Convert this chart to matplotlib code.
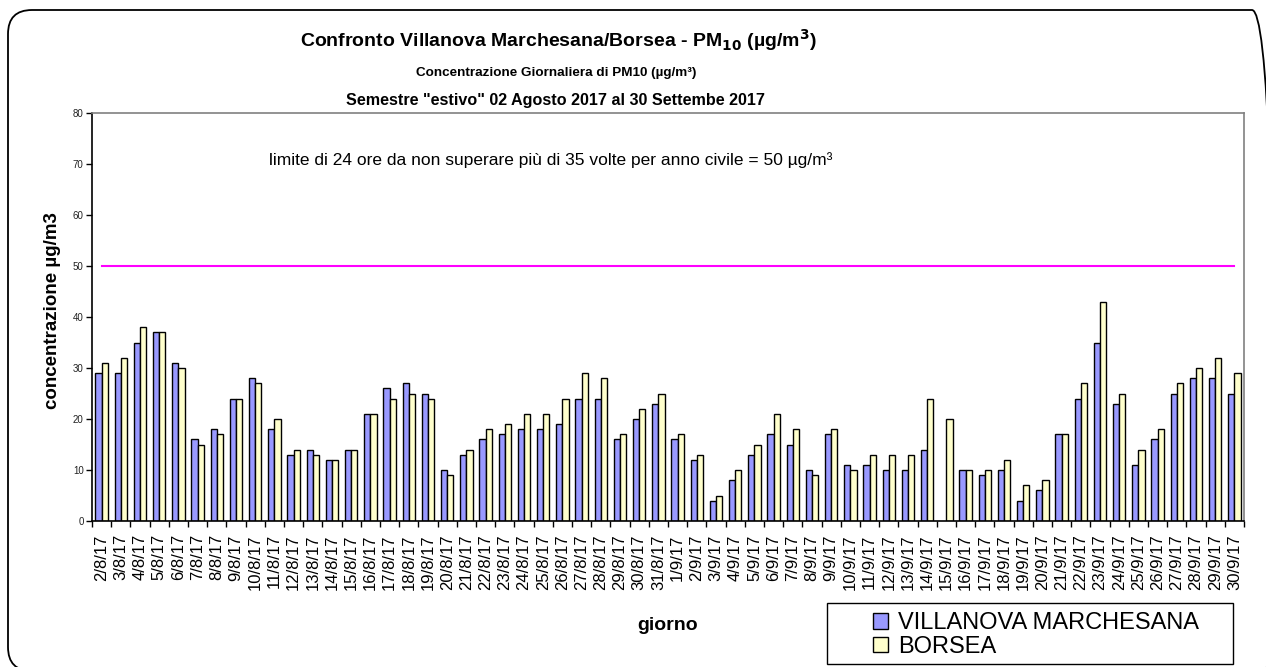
import numpy as np
import matplotlib
matplotlib.use("Agg")
from matplotlib import pyplot as plt
from matplotlib.patches import FancyBboxPatch, Rectangle
from matplotlib.transforms import IdentityTransform

plt.rcParams['font.family'] = ['Liberation Sans', 'DejaVu Sans']

giorni = ['2/8/17', '3/8/17', '4/8/17', '5/8/17', '6/8/17', '7/8/17', '8/8/17',
          '9/8/17', '10/8/17', '11/8/17', '12/8/17', '13/8/17', '14/8/17',
          '15/8/17', '16/8/17', '17/8/17', '18/8/17', '19/8/17', '20/8/17',
          '21/8/17', '22/8/17', '23/8/17', '24/8/17', '25/8/17', '26/8/17',
          '27/8/17', '28/8/17', '29/8/17', '30/8/17', '31/8/17', '1/9/17',
          '2/9/17', '3/9/17', '4/9/17', '5/9/17', '6/9/17', '7/9/17', '8/9/17',
          '9/9/17', '10/9/17', '11/9/17', '12/9/17', '13/9/17', '14/9/17',
          '15/9/17', '16/9/17', '17/9/17', '18/9/17', '19/9/17', '20/9/17',
          '21/9/17', '22/9/17', '23/9/17', '24/9/17', '25/9/17', '26/9/17',
          '27/9/17', '28/9/17', '29/9/17', '30/9/17']

# daily PM10 (ug/m3), nan = dato mancante
villanova = [29, 29, 35, 37, 31, 16, 18, 24, 28, 18, 13, 14, 12, 14, 21, 26, 27, 25,
             10, 13, 16, 17, 18, 18, 19, 24, 24, 16, 20, 23, 16, 12, 4, 8, 13, 17,
             15, 10, 17, 11, 11, 10, 10, 14, np.nan, 10, 9, 10, 4, 6, 17, 24, 35,
             23, 11, 16, 25, 28, 28, 25]
borsea = [31, 32, 38, 37, 30, 15, 17, 24, 27, 20, 14, 13, 12, 14, 21, 24, 25, 24,
          9, 14, 18, 19, 21, 21, 24, 29, 28, 17, 22, 25, 17, 13, 5, 10, 15, 21,
          18, 9, 18, 10, 13, 13, 13, 24, 20, 10, 10, 12, 7, 8, 17, 27, 43, 25,
          14, 18, 27, 30, 32, 29]
limite = 50

W, H = 1266, 667
fig = plt.figure(figsize=(W / 100, H / 100), dpi=100)

# rounded chart border (pixel coordinates), right/bottom edges run off the image
border = FancyBboxPatch((8, -4), 1268, 661, boxstyle="round,pad=0,rounding_size=24",
                        transform=IdentityTransform(), facecolor='none',
                        edgecolor='black', linewidth=1.3, zorder=5)
fig.patches.append(border)

ax = fig.add_axes([92 / W, 1 - 521 / H, (1244 - 92) / W, (521 - 113) / H])
ax.set_facecolor('none')

x = np.arange(len(giorni))
w = 0.32
ax.bar(x - w / 2, villanova, w, color='#9999FF', edgecolor='black', linewidth=1,
       label='VILLANOVA MARCHESANA', zorder=2)
ax.bar(x + w / 2, borsea, w, color='#FFFFCC', edgecolor='black', linewidth=1,
       label='BORSEA', zorder=2)
ax.plot(x, [limite] * len(x), color='#FF00FF', linewidth=1.5, zorder=3)

ax.set_xlim(-0.5, len(giorni) - 0.5)
ax.set_ylim(0, 80)
ax.set_yticks(range(0, 81, 10))
ax.tick_params(axis='y', labelsize=7, labelcolor='#222222', length=4, width=1,
               direction='out', pad=2)
ax.set_xticks(x)
ax.set_xticklabels(giorni, rotation=90, fontsize=12)
ax.tick_params(axis='x', length=0, pad=9.5)
ax.set_xticks(np.arange(-0.5, len(giorni), 1), minor=True)
ax.tick_params(axis='x', which='minor', length=4, width=1, direction='out')

for s in ['left', 'bottom']:
    ax.spines[s].set_color('black')
    ax.spines[s].set_linewidth(1.2)
for s in ['top', 'right']:
    ax.spines[s].set_color('#808080')
    ax.spines[s].set_linewidth(1.2)

ax.set_ylabel('concentrazione µg/m3', fontsize=13.5, fontweight='bold')
ax.yaxis.set_label_coords((53 - 92) / (1244 - 92), (521 - 311) / (521 - 113))
ax.yaxis.label.set_va('center')
fig.text(668 / W, 1 - 625 / H, 'giorno', fontsize=14, fontweight='bold',
         ha='center', va='center')

fig.text(269 / W, 1 - 160 / H,
         'limite di 24 ore da non superare più di 35 volte per anno civile = 50 µg/m³',
         fontsize=12.5, ha='left', va='center')

fig.text(558 / W, 1 - 40 / H,
         r'Confronto Villanova Marchesana/Borsea - PM$_{\mathbf{10}}$ (µg/m$^{\mathbf{3}}$)',
         fontsize=14, fontweight='bold', ha='center', va='center')
fig.text(556 / W, 1 - 73 / H, 'Concentrazione Giornaliera di PM10 (µg/m³)',
         fontsize=9.7, fontweight='bold', ha='center', va='center')
fig.text(555 / W, 1 - 100 / H, 'Semestre "estivo" 02 Agosto 2017 al 30 Settembe 2017',
         fontsize=11.6, fontweight='bold', ha='center', va='center')

# legend box drawn by hand (wider than its entries, as in the original)
fig.patches.append(Rectangle((827, H - 664), 406, 61, transform=IdentityTransform(),
                             facecolor='white', edgecolor='black', linewidth=1,
                             zorder=4))
leg = fig.legend(loc='upper left', bbox_to_anchor=(873 / W, 1 - 612 / H),
                 bbox_transform=fig.transFigure, fontsize=17, frameon=False,
                 borderpad=0, handlelength=0.65, handleheight=0.65,
                 handletextpad=0.42, labelspacing=0.08, borderaxespad=0)
leg.set_zorder(6)

fig.savefig('out.png', dpi=100)
